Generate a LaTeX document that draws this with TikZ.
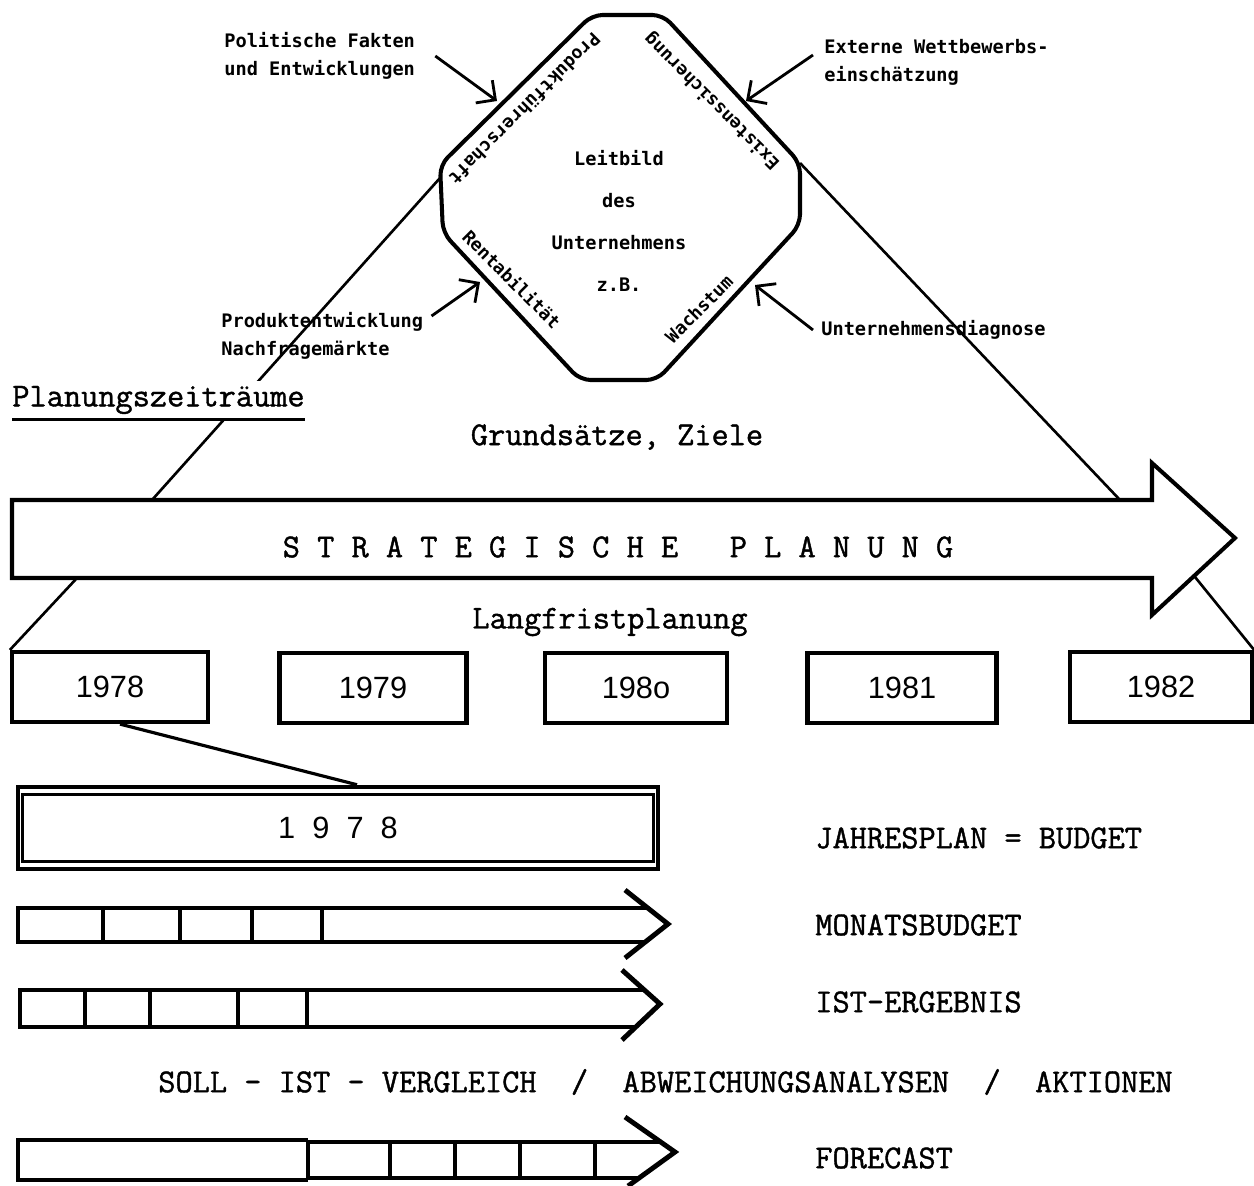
\documentclass[tikz,border=0pt]{standalone}
\usepackage{fontspec}
\usetikzlibrary{arrows.meta}
\newfontfamily\typew[FakeBold=1.2]{Latin Modern Mono}
\newfontfamily\gothic{DejaVu Sans Mono}
\newfontfamily\digitfont{Liberation Sans}

\begin{document}
\begin{tikzpicture}[x=0.02cm,y=-0.02cm,
  infolabel/.style={font=\gothic\bfseries\fontsize{10.6}{15.9}\selectfont, inner sep=0pt, align=left, anchor=west},
  edgetext/.style={font=\gothic\bfseries\fontsize{10.2}{12}\selectfont, inner sep=0pt},
  typed/.style={font=\typew\fontsize{19}{22}\selectfont, inner sep=0pt},
  yearbox/.style={draw, line width=2.4pt, minimum height=1.4cm, inner sep=0pt,
                  font=\digitfont\fontsize{17.5}{20}\selectfont},
  influence/.style={line width=1.6pt, -{Straight Barb[length=8pt,width=16pt,line width=1.6pt]}},
  octframe/.style={line width=2.3pt, line join=round, rounded corners=6pt},
  guide/.style={line width=1.5pt},
  shaftline/.style={line width=1.8pt},
  boxline/.style={line width=2.8pt, line join=miter},
  chev/.style={line width=2.8pt, line join=miter},
]
\useasboundingbox (0,0) rectangle (1254,1186);

% ---------- octagon: Leitbild des Unternehmens ----------
\coordinate (oT1) at (592,15);  \coordinate (oT2) at (663,15);
\coordinate (oR1) at (800,163); \coordinate (oR2) at (800,225);
\coordinate (oB2) at (657,380); \coordinate (oB1) at (580,380);
\coordinate (oL2) at (443,233); \coordinate (oL1) at (440,165);
\draw[octframe] (oT1) -- (oT2) -- (oR1) -- (oR2) -- (oB2) -- (oB1) -- (oL2) -- (oL1) -- cycle;

\node[font=\gothic\bfseries\fontsize{10.6}{24}\selectfont, align=center, inner sep=0pt] (leit) at (619,221)
  {Leitbild\\des\\Unternehmens\\z.B.};

\node[edgetext, rotate=225] (eUL) at (525,109) {Produktführerschaft};
\node[edgetext, rotate=135] (eUR) at (712,101) {Existenssicherung};
\node[edgetext, rotate=-45] (eLL) at (512,279) {Rentabilität};
\node[edgetext, rotate=45]  (eLR) at (699,309) {Wachstum};

% ---------- planning triangle ----------
\coordinate (octL) at (440,178);
\coordinate (shaftL) at (152,500);
\coordinate (shaftR) at (1120,500);
\draw[guide] (shaftL) -- (octL);
\draw[guide] (oR1) -- (shaftR);

% ---------- influences on the octagon ----------
\node[infolabel] (pol) at (224,56) {Politische Fakten\\und Entwicklungen};
\node[infolabel] (ext) at (824,62) {Externe Wettbewerbs-\\einschätzung};
\node[infolabel] (prod) at (221,336) {Produktentwicklung\\Nachfragemärkte};
\node[infolabel] (diag) at (821,330) {Unternehmensdiagnose};

\coordinate (inPol) at (497,101);
\coordinate (inExt) at (746,101);
\coordinate (inProd) at (480,282);
\coordinate (inDiag) at (755,285);
\draw[influence] ([xshift=0.4cm]pol.east) -- (inPol);
\draw[influence] ([xshift=-0.22cm,yshift=0.14cm]ext.west) -- (inExt);
\draw[influence] ([xshift=0.16cm,yshift=0.4cm]prod.east) -- (inProd);
\draw[influence] ([xshift=-0.16cm]diag.west) -- (inDiag);

% ---------- heading ----------
\node[typed, anchor=west, fill=white, inner ysep=3pt] (zeit) at (12,400) {Planungszeiträume};
\draw[line width=1.4pt] (zeit.south west) -- (zeit.south east);

\node[typed] (grund) at (617,437) {Grundsätze, Ziele};

% ---------- strategic planning arrow ----------
\draw[line width=2.3pt, line join=miter]
  (12,500) -- (1152,500) -- (1152,463) -- (1235,538) -- (1152,615) -- (1152,578) -- (12,578) -- cycle;
\node[typed] (strat) at (618,547) {S~T~R~A~T~E~G~I~S~C~H~E~~~P~L~A~N~U~N~G};

\node[typed] (lang) at (610,622) {Langfristplanung};

% ---------- years ----------
\node[yearbox, minimum width=3.92cm] (y78) at (110,687) {1978};
\node[yearbox, minimum width=3.74cm] (y79) at (373,688) {1979};
\node[yearbox, minimum width=3.64cm] (y80) at (636,688) {198o};
\node[yearbox, minimum width=3.78cm] (y81) at (902,688) {1981};
\node[yearbox, minimum width=3.64cm] (y82) at (1161,687) {1982};

\coordinate (fanL) at (77,578);
\coordinate (fanR) at (1195,577);
\draw[guide] (fanL) -- (y78.north west);
\draw[guide] (fanR) -- (y82.north east);

% ---------- annual plan 1978 ----------
\node[draw, line width=2.6pt, minimum width=12.8cm, minimum height=1.64cm, inner sep=0pt,
      font=\digitfont\fontsize{17.5}{20}\selectfont] (bar) at (338,828) {1~~9~~7~~8};
\draw[line width=1.6pt] ([xshift=0.14cm,yshift=-0.2cm]bar.north west) rectangle
                        ([xshift=-0.14cm,yshift=0.2cm]bar.south east);
\draw[line width=1.8pt] ([xshift=0.2cm]y78.south) -- ([xshift=0.38cm]bar.north);

\node[typed, anchor=west] (jahr) at (815,838) {JAHRESPLAN = BUDGET};

% ---------- monthly budget ----------
\draw[shaftline] (322,908) -- (649,908);
\draw[shaftline] (322,942) -- (644,942);
\draw[boxline] (18,908) rectangle (322,942);
\foreach \x in {103,180,252} \draw[boxline] (\x,908) -- (\x,942);
\draw[chev] (625,890) -- (668,924) -- (625,958);
\node[typed, anchor=west] (monat) at (815,925) {MONATSBUDGET};

% ---------- actual result ----------
\draw[shaftline] (307,990) -- (644,990);
\draw[shaftline] (307,1027) -- (636,1027);
\draw[boxline] (20,990) rectangle (307,1027);
\foreach \x in {85,150,238} \draw[boxline] (\x,990) -- (\x,1027);
\draw[chev] (622,970) -- (660,1004) -- (622,1040);
\node[typed, anchor=west] (ist) at (815,1002) {IST-ERGEBNIS};

\node[typed, anchor=west] (soll) at (158,1082)
  {SOLL - IST - VERGLEICH~~/~~ABWEICHUNGSANALYSEN~~/~~AKTIONEN};

% ---------- forecast ----------
\draw[shaftline] (308,1140) -- (18,1140) -- (18,1180) -- (308,1180);
\draw[boxline] (308,1142) rectangle (595,1178);
\foreach \x in {390,455,520} \draw[boxline] (\x,1142) -- (\x,1178);
\draw[shaftline] (595,1142) -- (661,1142);
\draw[shaftline] (595,1178) -- (639,1178);
\draw[chev] (625,1117) -- (675,1152) -- (628,1186);
\node[typed, anchor=west] (fore) at (815,1158) {FORECAST};
\end{tikzpicture}
\end{document}
